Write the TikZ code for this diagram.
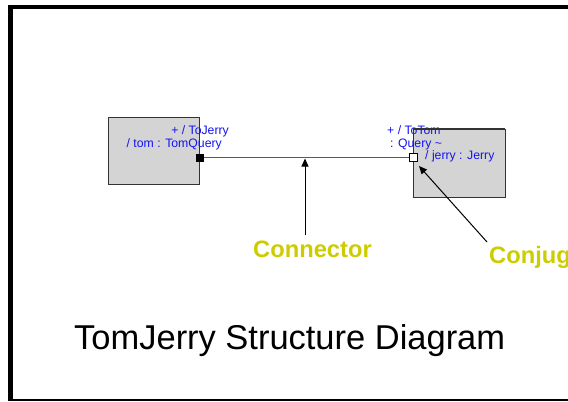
\documentclass[tikz,border=0pt]{standalone}
\usepackage{fontspec}
\setmainfont{Liberation Sans}
\usetikzlibrary{arrows.meta}
\definecolor{partgray}{RGB}{212,212,212}
\definecolor{portblue}{RGB}{20,20,240}
\definecolor{noteyellow}{RGB}{204,204,0}
\definecolor{wiregray}{RGB}{90,90,90}
\tikzset{
  part/.style={draw=black!80, line width=0.9bp, fill=partgray, inner sep=0pt},
  portlabel/.style={inner sep=0pt, text=portblue, font=\fontsize{12.3}{14}\selectfont},
  note/.style={inner sep=0pt, text=noteyellow, font=\fontsize{23.8}{28}\selectfont\bfseries, anchor=base west},
  pointer/.style={draw=black, line width=1bp, -{Triangle[length=8bp,width=7bp]}},
  wire/.style={draw=wiregray, line width=1.3bp},
}
\begin{document}
\begin{tikzpicture}[x=1bp,y=-1bp]
\useasboundingbox (0,0) rectangle (568,401);
\begin{scope}
\clip (0,0) rectangle (568,401);
% frame of the sheet
\draw[line width=4.5bp] (568,7) -- (10.3,7) -- (10.3,401);
\draw[line width=2bp] (10.3,400) -- (568,400);

% the two parts
\node[part, minimum width=91bp, minimum height=67bp] (tom) at (153.5,150.5) {};
\node[part, minimum width=92bp, minimum height=68bp] (jerry) at (459,163) {};

% ports on the part borders
\node[draw=black, fill=black, minimum size=7bp, inner sep=0pt] (pa) at (200,157.5) {};
\node[draw=black, fill=white, line width=0.9bp, minimum size=8bp, inner sep=0pt] (pb) at (413.5,157.5) {};

% connector between the ports
\draw[wire] (pa.east) -- (pb.west);
\coordinate (mid) at (305,158.5);

% port and part labels
\node[portlabel, anchor=base east] (l1) at (229,134) {+ / ToJerry};
\node[portlabel, anchor=base east] (l2) at (222,147.5) {/ tom : TomQuery};
\node[portlabel, anchor=base west] (l3) at (387,134) {+ / ToTom};
\node[portlabel, anchor=base west] (l4) at (390,147.5) {: Query \char`~};
\node[portlabel, anchor=base west] (l5) at (425,159) {/ jerry : Jerry};
\draw[black!80, line width=0.9bp] (jerry.north west) -- (jerry.north east);

% annotations
\node[note] (cn) at (253,257) {Connector};
\node[note] (cj) at (489,263) {Conjug};
\coordinate (cnfoot) at (305,235);
\coordinate (cjfoot) at (487,242);
\coordinate (cjtip) at (419,166);
\draw[pointer] (cnfoot) -- (mid);
\draw[pointer] (cjfoot) -- (cjtip);

% title
\node[inner sep=0pt, anchor=base west, font=\fontsize{34.6}{40}\selectfont] (title) at (74,349) {TomJerry Structure Diagram};
\end{scope}
\end{tikzpicture}
\end{document}
